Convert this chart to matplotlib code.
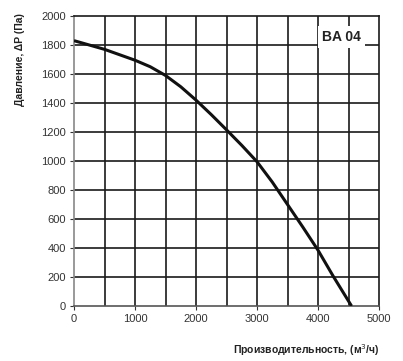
import matplotlib
matplotlib.use("Agg")
import matplotlib.pyplot as plt

plt.rcParams['font.family'] = ['Liberation Sans', 'DejaVu Sans']

flow = [0, 500, 1000, 1250, 1500, 1750, 2000, 2250, 2500, 2750, 3000, 3250, 3500, 3750, 4000, 4250, 4550]
pressure = [1830, 1770, 1695, 1650, 1590, 1512, 1420, 1320, 1215, 1108, 995, 855, 700, 545, 385, 205, 0]
xticks = [0, 1000, 2000, 3000, 4000, 5000]
yticks = list(range(0, 2001, 200))
xgrid = list(range(500, 5000, 500))
model_label = "BA 04"

fig = plt.figure(figsize=(4.03, 3.61), dpi=100)
ax = fig.add_axes([74/403, 55/361, 305/403, 290/361])

ax.set_xlim(0, 5000)
ax.set_ylim(0, 2000)
for gx in xgrid:
    ax.axvline(gx, color='#1a1a1a', lw=1.2, zorder=1)
for gy in yticks[1:-1]:
    ax.axhline(gy, color='#1a1a1a', lw=1.2, zorder=1)

ax.plot(flow, pressure, color='#111111', lw=2.2, zorder=3,
        solid_capstyle='butt', solid_joinstyle='round')

ax.set_xticks(xticks)
ax.set_yticks(yticks)
ax.tick_params(axis='both', labelsize=8, colors='#333333', length=3, width=0.8, pad=3)
for lab in ax.get_xticklabels() + ax.get_yticklabels():
    lab.set_color('#333333')
ax.spines['left'].set_color('#888888')
ax.spines['bottom'].set_color('#555555')
ax.spines['top'].set_color('#1a1a1a')
ax.spines['right'].set_color('#1a1a1a')
for s in ax.spines.values():
    s.set_linewidth(1.2)

ax.text(4380, 1855, model_label, fontsize=10, fontweight='bold', ha='center', va='center',
        color='#222222', zorder=5,
        bbox=dict(facecolor='white', edgecolor='none', pad=3))

fig.text(20/403, 1 - 13/361, "Давление, ΔP (Па)", rotation=90, ha='center', va='top',
         fontsize=7.5, fontweight='bold', color='#222222')
fig.text(380/403, 1 - 350/361, "Производительность, (м$^3$/ч)", ha='right', va='center',
         fontsize=7.5, fontweight='bold', color='#222222')

fig.savefig("out.png", dpi=100)
